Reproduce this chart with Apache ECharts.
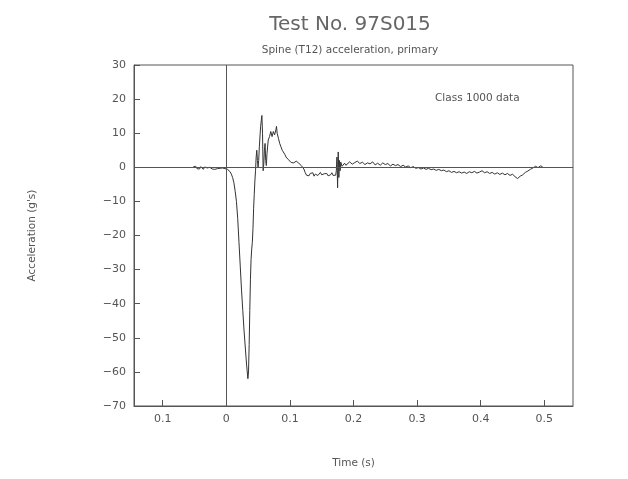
<!DOCTYPE html>
<html>
<head>
<meta charset="utf-8">
<script src="https://cdn.jsdelivr.net/npm/echarts@6/dist/echarts.min.js"></script>
<style>html,body{margin:0;padding:0;background:#fff}#c{width:628px;height:479px}</style>
</head>
<body>
<div id="c"></div>
<script>
// ---- data ----
const timeS = [
 -0.052,-0.050,-0.048,-0.046,-0.044,-0.042,-0.040,-0.038,-0.036,-0.034,-0.032,-0.030,-0.028,-0.026,-0.024,-0.022,-0.020,-0.018,-0.016,-0.014,-0.012,-0.010,-0.008,-0.006,-0.004,-0.002,0.000,
 0.002,0.004,0.006,0.008,0.010,0.012,0.014,0.016,0.018,0.020,0.022,0.024,0.026,0.028,0.030,0.032,0.034,0.035,0.036,0.037,0.038,0.039,0.040,0.041,0.042,0.043,0.044,0.045,0.046,0.047,0.048,0.049,0.050,0.051,0.052,0.054,0.056,0.057,0.058,0.059,0.060,0.061,0.062,0.063,0.064,0.066,0.068,0.070,0.072,0.074,0.076,0.078,0.079,0.080,0.082,0.084,0.086,0.088,0.090,0.092,0.094,0.096,0.098,0.100,0.102,0.104,0.106,0.108,0.110,0.112,0.114,0.116,0.118,0.120,0.122,0.124,0.126,
 0.128,0.130,0.132,0.134,0.136,0.138,0.140,0.142,0.144,0.146,0.148,0.150,0.152,0.154,0.156,0.158,0.160,0.162,0.164,0.166,0.168,0.170,0.172,
 0.173,0.174,0.175,0.176,0.177,0.178,0.179,0.180,0.182,0.184,0.186,0.188,
 0.190,0.194,0.198,0.202,0.206,0.210,0.214,0.218,0.222,0.226,0.230,0.234,0.238,0.242,0.246,0.250,0.254,0.258,0.262,0.266,0.270,0.274,0.278,0.282,0.286,0.290,0.294,0.298,0.302,0.306,0.310,0.314,0.318,0.322,0.326,0.330,0.334,0.338,0.342,0.346,0.350,0.354,0.358,0.362,0.366,0.370,0.374,0.378,0.382,0.386,0.390,0.394,0.398,0.402,0.406,0.410,0.414,0.418,0.422,0.426,0.430,0.434,0.438,0.442,0.446,0.450,0.454,0.458,0.462,0.466,0.470,0.474,0.478,0.482,0.486,0.490,0.494,0.497
];
const accelG = [
 0.1,-0.2,0.3,-0.4,0.0,-0.5,0.2,-0.3,-0.6,0.1,-0.4,-0.2,-0.7,0.0,-0.3,-0.5,-0.1,-0.6,-0.2,-0.4,-0.8,-0.3,-0.5,-0.2,-0.6,-0.4,-0.5,
 -0.6,-0.9,-1.3,-2.0,-3.0,-4.5,-7,-10,-15,-22,-29,-36,-42,-48,-53,-58,-62,-60,-52,-42,-33,-27,-24,-22,-18,-12,-8,-4,-1,3,5,2,0,2,6,12,15.2,10,-1,1,5,7,2,0.5,4,8,9,10.5,9,10.5,9.5,11,12,10,8.5,7,6,5,4.5,3.8,3,2.5,2.2,1.8,1.4,1.2,1.3,1.6,1.8,1.5,1.2,0.8,0.5,0.2,-0.5,-1.5,-2.3,
 -2.0,-2.5,-1.8,-2.3,-1.6,-2.6,-2.0,-1.7,-2.4,-2.1,-1.5,-2.2,-2.7,-1.9,-2.3,-1.8,-2.5,-2.0,-2.2,-1.6,-2.4,-2.0,-2.3,
 -1,3,-6,4.5,-3,2,-1,1.5,0.3,0.8,1.2,0.6,
 1.0,1.6,0.9,1.4,1.8,1.1,1.5,0.8,1.3,1.0,1.6,0.7,1.2,0.6,1.3,0.8,1.1,0.4,0.9,0.5,0.8,0.2,0.6,0.1,0.4,-0.1,0.2,-0.3,-0.1,-0.5,-0.2,-0.6,-0.3,-0.7,-0.5,-0.9,-0.6,-1.0,-0.8,-1.3,-1.0,-1.5,-1.2,-1.6,-1.3,-1.7,-1.4,-1.8,-1.3,-1.6,-1.2,-1.7,-1.4,-1.0,-1.6,-1.3,-1.8,-1.5,-2.0,-1.6,-2.1,-1.7,-2.2,-1.8,-2.4,-2.0,-2.8,-3.3,-2.6,-2.2,-1.5,-1.1,-0.6,-0.2,0.3,-0.1,0.4,0.2
];
const xTickValues = [-0.1, 0, 0.1, 0.2, 0.3, 0.4, 0.5];
const xTickLabels = ['0.1', '0', '0.1', '0.2', '0.3', '0.4', '0.5'];
const yTickLabels = ['30','20','10','0','\u221210','\u221220','\u221230','\u221240','\u221250','\u221260','\u221270'];

const seriesData = timeS.map((t, i) => [t, accelG[i]]);
const FONT = 'DejaVu Sans';
const TXT = '#555';
const chart = echarts.init(document.getElementById('c'), null, {renderer: 'canvas'});
chart.setOption({
  animation: false,
  backgroundColor: '#fff',
  title: [
    {text: 'Test No. 97S015', left: 345, top: 10, textAlign: 'center',
     textStyle: {fontFamily: FONT, fontSize: 20, fontWeight: 'normal', color: '#666'}},
    {text: 'Spine (T12) acceleration, primary', left: 345, top: 40, textAlign: 'center',
     textStyle: {fontFamily: FONT, fontSize: 10.5, fontWeight: 'normal', color: TXT}}
  ],
  grid: {left: 134, right: 55, top: 65, bottom: 73, show: true, borderColor: '#555', borderWidth: 1, containLabel: false},
  graphic: [
    {type: 'text', left: 435, top: 93, style: {text: 'Class 1000 data', font: '10.5px "DejaVu Sans"', fill: TXT}}
  ],
  xAxis: {
    type: 'value', min: -0.145, max: 0.545,
    name: 'Time (s)', nameLocation: 'middle', nameGap: 52,
    nameTextStyle: {fontFamily: FONT, fontSize: 10.5, color: TXT},
    axisLine: {show: true, onZero: false, lineStyle: {color: '#555', width: 1}},
    axisTick: {show: true, inside: true, length: 6, customValues: xTickValues, lineStyle: {color: '#555'}},
    axisLabel: {customValues: xTickValues, margin: 8, fontFamily: FONT, fontSize: 11, color: TXT,
      formatter: v => { const i = xTickValues.findIndex(x => Math.abs(x - v) < 1e-9); return i >= 0 ? xTickLabels[i] : ''; }},
    splitLine: {show: false}
  },
  yAxis: {
    type: 'value', min: -70, max: 30, interval: 10,
    name: "Acceleration (g's)", nameLocation: 'middle', nameGap: 96, nameRotate: 90,
    nameTextStyle: {fontFamily: FONT, fontSize: 10.5, color: TXT},
    axisLine: {show: true, onZero: false, lineStyle: {color: '#555', width: 1}},
    axisTick: {show: true, inside: true, length: 6, lineStyle: {color: '#555'}},
    axisLabel: {margin: 8, fontFamily: FONT, fontSize: 11, color: TXT,
      formatter: v => yTickLabels[Math.round((30 - v) / 10)]},
    splitLine: {show: false}
  },
  series: [{
    type: 'line', data: seriesData, showSymbol: false, symbol: 'none',
    lineStyle: {color: '#333', width: 1},
    markLine: {
      silent: true, symbol: ['none', 'none'], label: {show: false},
      lineStyle: {color: '#555', width: 1, type: 'solid'},
      data: [{xAxis: 0}, {yAxis: 0}]
    },
    z: 3
  }]
});
</script>
</body>
</html>
